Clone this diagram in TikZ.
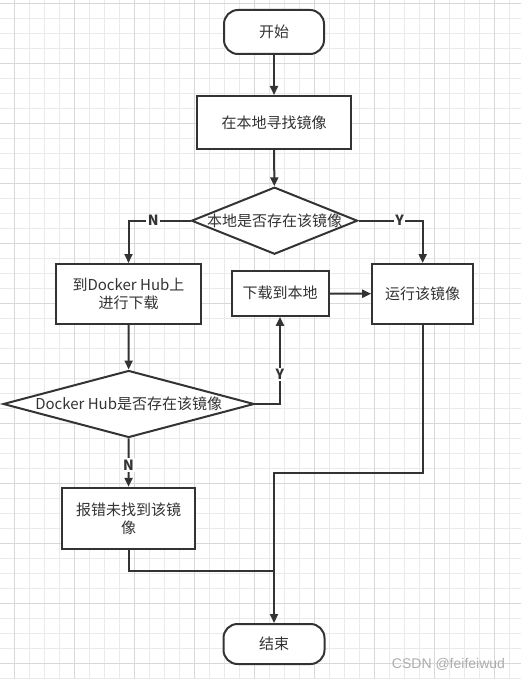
\documentclass[tikz,border=0pt]{standalone}
\usepackage{fontspec}
\setmainfont{Noto Sans CJK SC}
\newfontfamily\markfont{Liberation Sans}
\usetikzlibrary{arrows.meta,shapes.geometric}

\definecolor{linecol}{HTML}{333333}
\definecolor{gridminor}{HTML}{EAEAEA}
\definecolor{gridmajor}{HTML}{D8D8D8}

\begin{document}
\begin{tikzpicture}[
    x=1pt, y=-1pt,
    font=\fontsize{15}{18}\selectfont,
    procbox/.style={rectangle, draw=linecol, line width=2pt, fill=white, text=linecol, align=center, inner sep=0pt},
    termbox/.style={procbox, rounded corners=14pt},
    decision/.style={diamond, draw=linecol, line width=2pt, fill=white, text=linecol, inner sep=0pt},
    flowline/.style={draw=linecol, line width=2pt},
    flowarrow/.style={flowline, -{Triangle[length=9pt,width=8pt]}},
    yn/.style={fill=white, text=linecol, font=\fontsize{14}{16}\bfseries\selectfont, inner sep=1.5pt}
]

% === BACKGROUND GRID ===
\useasboundingbox (0,0) rectangle (521,679);
\fill[white] (0,0) rectangle (521,679);
\foreach \k in {0,...,33} {
    \draw[gridminor, line width=1pt] (14.3+15*\k, 0) -- (14.3+15*\k, 679);
}
\foreach \k in {0,...,45} {
    \draw[gridminor, line width=1pt] (0, 3.3+15*\k) -- (521, 3.3+15*\k);
}
\foreach \k in {0,...,8} {
    \draw[gridmajor, line width=1pt] (14.3+60*\k, 0) -- (14.3+60*\k, 679);
}
\foreach \k in {0,...,11} {
    \draw[gridmajor, line width=1pt] (0, 3.3+60*\k) -- (521, 3.3+60*\k);
}

% === NODES ===
\node[termbox, minimum width=100, minimum height=44] (start) at (274, 32) {开始};
\node[procbox, minimum width=154, minimum height=53] (find) at (274, 122.5) {在本地寻找镜像};
\node[decision, minimum width=166, minimum height=67] (dec1) at (274.5, 220.7) {\makebox[0pt]{本地是否存在该镜像}};

\node[procbox, minimum width=145, minimum height=60] (pull) at (128.5, 294) {到Docker Hub上\\进行下载};
\node[procbox, minimum width=97, minimum height=45] (save) at (280, 293.3) {下载到本地};
\node[procbox, minimum width=101, minimum height=60] (run) at (422.7, 294) {运行该镜像};

\node[decision, minimum width=251, minimum height=67] (dec2) at (128.7, 404) {\makebox[0pt]{Docker Hub是否存在该镜像}};
\node[procbox, minimum width=133, minimum height=61] (err) at (128.5, 518.3) {报错未找到该镜\\像};

\node[termbox, minimum width=101, minimum height=40] (stop) at (274, 644) {结束};

% join points of the merging lines
\coordinate (join1) at (274, 473.3);
\coordinate (join2) at (274, 570.7);

% === CONNECTORS ===
\draw[flowarrow] (start) -- (find);
\draw[flowarrow] (find) -- (dec1);
\draw[flowarrow] (dec1.west) -| (pull.north) node[yn, pos=0.3] {N};
\draw[flowarrow] (dec1.east) -| (run.north) node[yn, pos=0.32] {Y};
\draw[flowarrow] (pull) -- (dec2);
\draw[flowarrow] (dec2.east) -| (save.south) node[yn, pos=0.67] {Y};
\draw[flowarrow] (save) -- (run);
\draw[flowarrow] (dec2) -- (err) node[yn, pos=0.55] {N};
\draw[flowarrow] (run.south) |- (join1) -- (stop.north);
\draw[flowline] (err.south) |- (join2);

% watermark
\node[font=\markfont\fontsize{14}{16}\selectfont, text=black!32] (mark) at (448.5, 664) {CSDN @feifeiwud};

\end{tikzpicture}
\end{document}
